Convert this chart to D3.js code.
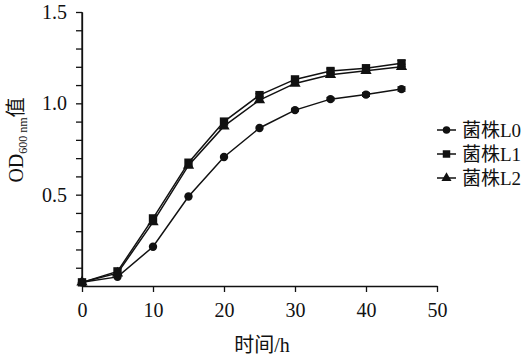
<!DOCTYPE html>
<html>
<head>
<meta charset="utf-8">
<script src="https://cdn.jsdelivr.net/npm/d3@7"></script>
<style>
  body { margin: 0; background: #fff; }
  svg { display: block; }
  text { font-family: "Liberation Serif", "Times New Roman", "Noto Sans CJK SC", serif; fill: #111; }
</style>
</head>
<body>
<svg id="chart" width="532" height="361"></svg>
<script>
// time points (h)
var hours = [0, 5, 10, 15, 20, 25, 30, 35, 40, 45];
// OD600 per strain
var L0 = [0.02, 0.05, 0.215, 0.49, 0.706, 0.865, 0.963, 1.023, 1.048, 1.078];
var L1 = [0.02, 0.08, 0.37, 0.675, 0.90, 1.045, 1.131, 1.177, 1.192, 1.219];
var L2 = [0.02, 0.07, 0.35, 0.66, 0.875, 1.018, 1.109, 1.157, 1.178, 1.200];
// error bars (sd)
var L0err = [0, 0, 0, 0, 0, 0, 0.006, 0.008, 0.01, 0.012];
var L1err = [0, 0, 0, 0, 0, 0.008, 0.01, 0.012, 0.016, 0.016];
var L2err = [0, 0, 0, 0, 0, 0.008, 0.01, 0.012, 0.014, 0.014];
var seriesNames = ["菌株L0", "菌株L1", "菌株L2"];
var xTicks = [0, 10, 20, 30, 40, 50];
var yTicks = [0.5, 1.0, 1.5];

var serif = "'Liberation Serif', 'Times New Roman', serif";
var svg = d3.select("#chart");
var x = d3.scaleLinear().domain([0, 50]).range([82, 437]);
var y = d3.scaleLinear().domain([0, 1.5]).range([286, 12]);

// axes
var xAxis = d3.axisBottom(x).tickValues(xTicks).tickFormat(d3.format("d")).tickSize(6).tickSizeOuter(0);
var gx = svg.append("g").attr("transform", "translate(0,286)").call(xAxis);
gx.selectAll("text").style("font-family", serif).style("font-size", "20px").attr("dy", "1.1em");

// minor ticks every 0.1, labels only on yTicks
var yAxis = d3.axisLeft(y).tickValues(d3.range(1, 16).map(function (i) { return i / 10; }))
  .tickFormat(function (d) {
    return yTicks.some(function (t) { return Math.abs(t - d) < 1e-6; }) ? d3.format(".1f")(d) : "";
  })
  .tickSize(6).tickSizeOuter(0);
var gy = svg.append("g").attr("transform", "translate(82,0)").call(yAxis);
gy.selectAll("text").style("font-family", serif).style("font-size", "20px").attr("dx", "-0.3em");
svg.selectAll(".domain, .tick line").attr("stroke", "#111").attr("stroke-width", 1.3);
svg.append("line").attr("x1", 82).attr("x2", 82).attr("y1", y(0)).attr("y2", y(1.5)).attr("stroke", "#111").attr("stroke-width", 1.3);

// titles
svg.append("text").attr("x", 262).attr("y", 352).attr("text-anchor", "middle").attr("font-size", 20)
  .text("时间/h");
var yl = svg.append("text").attr("transform", "translate(23,140) rotate(-90)").attr("text-anchor", "middle").attr("font-size", 20);
yl.append("tspan").text("OD");
yl.append("tspan").attr("font-size", 12).attr("dy", 4).text("600 nm");
yl.append("tspan").attr("dy", -4).text("值");

var series = [
  { name: seriesNames[0], vals: L0, err: L0err, shape: "circle" },
  { name: seriesNames[1], vals: L1, err: L1err, shape: "square" },
  { name: seriesNames[2], vals: L2, err: L2err, shape: "triangle" }
];

var line = d3.line().x(function (d) { return x(d[0]); }).y(function (d) { return y(d[1]); });
var symbols = { circle: d3.symbolCircle, square: d3.symbolSquare, triangle: d3.symbolTriangle };
var sizes = { circle: 55, square: 70, triangle: 55 };

series.forEach(function (s) {
  var pts = hours.map(function (h, i) { return [h, s.vals[i], s.err[i]]; });
  svg.append("path").datum(pts).attr("d", line).attr("fill", "none").attr("stroke", "#111").attr("stroke-width", 1.5);
  var eb = svg.append("g").selectAll("g").data(pts.filter(function (d) { return d[2] > 0; })).enter().append("g");
  eb.append("line").attr("x1", function (d) { return x(d[0]); }).attr("x2", function (d) { return x(d[0]); })
    .attr("y1", function (d) { return y(d[1] - d[2]); }).attr("y2", function (d) { return y(d[1] + d[2]); })
    .attr("stroke", "#111").attr("stroke-width", 1.2);
  [-1, 1].forEach(function (sg) {
    eb.append("line").attr("x1", function (d) { return x(d[0]) - 4; }).attr("x2", function (d) { return x(d[0]) + 4; })
      .attr("y1", function (d) { return y(d[1] + sg * d[2]); }).attr("y2", function (d) { return y(d[1] + sg * d[2]); })
      .attr("stroke", "#111").attr("stroke-width", 1.2);
  });
  svg.append("g").selectAll("path").data(pts).enter().append("path")
    .attr("transform", function (d) { return "translate(" + x(d[0]) + "," + y(d[1]) + ")"; })
    .attr("d", d3.symbol().type(symbols[s.shape]).size(sizes[s.shape]))
    .attr("fill", "#111");
});

// legend
var lg = svg.append("g").attr("transform", "translate(437,130)");
series.forEach(function (s, i) {
  var row = lg.append("g").attr("transform", "translate(0," + (i * 24) + ")");
  row.append("line").attr("x1", 0).attr("x2", 19).attr("stroke", "#111").attr("stroke-width", 1.5);
  row.append("path").attr("transform", "translate(9.5,0)").attr("d", d3.symbol().type(symbols[s.shape]).size(sizes[s.shape] * 0.8)).attr("fill", "#111");
  row.append("text").attr("x", 25).attr("y", 6.5).attr("font-size", 19).text(s.name);
});
</script>
</body>
</html>
